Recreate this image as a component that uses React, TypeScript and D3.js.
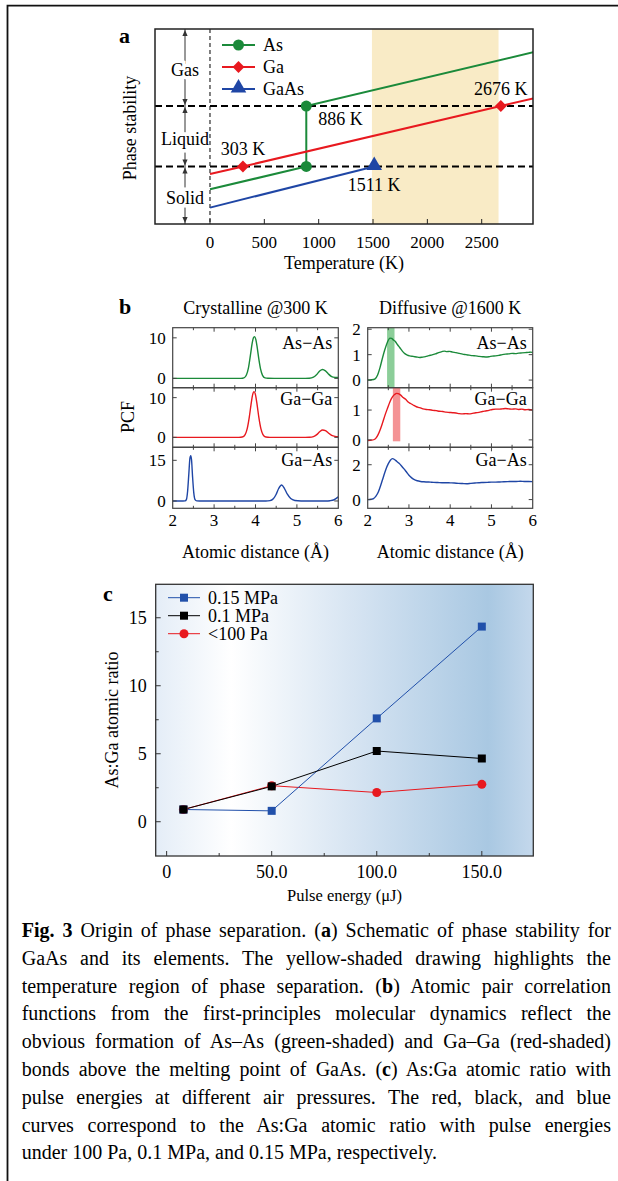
import React, { useEffect, useRef } from "react";
import * as d3 from "d3";

const WIDTH = 618;
const HEIGHT = 1181;
const SERIF = "'Liberation Serif', 'Times New Roman', serif";

const GREEN = "#1b8a3a";
const RED = "#e8191f";
const BLUE = "#1f46a5";

// ---- panel a: phase stability schematic (phase level is arbitrary units 0..100)
const tempTicks = [0, 500, 1000, 1500, 2000, 2500];
const phaseBreaks = [29.5, 60.5]; // solid|liquid, liquid|gas
const phaseNames = ["Gas", "Liquid", "Solid"];
const sepRange = [1490, 2655];
const asPath = [[0, 17.8], [886, 29.5], [886, 60.5], [2975, 88.1]];
const gaPath = [[0, 25.6], [303, 29.5], [2676, 60.5], [2975, 64.4]];
const gaasPath = [[0, 8.4], [1511, 29.5]];
const asPoints = [[886, 29.5], [886, 60.5]];
const gaPoints = [[303, 29.5], [2676, 60.5]];
const gaasPoints = [[1511, 29.5]];
const meltTemps = [303, 886, 1511, 2676];
const meltLevels = [29.5, 60.5, 29.5, 60.5];
const legendA = ["As", "Ga", "GaAs"];

// ---- panel b: pair correlation functions
const pairNames = ["As−As", "Ga−Ga", "Ga−As"];
const distanceTicks = [2, 3, 4, 5, 6];
const crystalTicks = [[0, 10], [0, 10], [0, 15]];
const diffuseTicks = [[0, 1, 2], [0, 1], [0, 2]];
const bondShades = [[2.47, 2.65], [2.61, 2.79]];

const asAs300 = [[2.0, 0], [3.0, 0], [3.55, 0], [3.65, 0.01], [3.72, 0.14], [3.78, 0.85], [3.83, 2.6], [3.88, 5.9], [3.92, 8.7], [3.95, 10.0], [3.975, 10.3], [4.01, 9.5], [4.04, 7.7], [4.08, 4.8], [4.12, 2.4], [4.17, 0.75], [4.23, 0.12], [4.3, 0.02], [4.45, 0], [5.2, 0], [5.3, 0.03], [5.4, 0.3], [5.48, 0.98], [5.55, 1.8], [5.62, 2.2], [5.69, 1.85], [5.76, 1.1], [5.84, 0.45], [5.92, 0.25], [6.0, 0.2]];
const gaGa300 = [[2.0, 0], [3.0, 0], [3.6, 0], [3.68, 0.08], [3.75, 0.7], [3.8, 2.2], [3.85, 5.1], [3.89, 8.1], [3.93, 10.7], [3.965, 11.5], [4.0, 10.7], [4.04, 8.1], [4.08, 5.1], [4.13, 2.2], [4.18, 0.7], [4.25, 0.08], [4.35, 0], [5.2, 0], [5.3, 0.03], [5.4, 0.2], [5.48, 0.7], [5.55, 1.4], [5.62, 1.85], [5.69, 1.7], [5.76, 1.1], [5.84, 0.5], [5.92, 0.25], [6.0, 0.18]];
const gaAs300 = [[2.0, 0], [2.25, 0], [2.3, 0.05], [2.33, 0.5], [2.36, 3.6], [2.39, 10.1], [2.415, 15.6], [2.435, 16.7], [2.455, 15.2], [2.48, 8.9], [2.51, 2.9], [2.54, 0.5], [2.58, 0.05], [2.65, 0], [4.25, 0], [4.35, 0.12], [4.43, 0.8], [4.5, 2.5], [4.56, 4.6], [4.63, 5.9], [4.7, 4.6], [4.77, 2.5], [4.85, 0.9], [4.95, 0.2], [5.1, 0.02], [5.7, 0], [5.8, 0.1], [5.9, 0.45], [6.0, 1.5]];

const asAs1600 = [[2.0, 0.0], [2.1, 0.01], [2.18, 0.05], [2.24, 0.2], [2.3, 0.5], [2.36, 0.88], [2.42, 1.22], [2.48, 1.5], [2.54, 1.65], [2.58, 1.64], [2.62, 1.58], [2.67, 1.52], [2.72, 1.4], [2.78, 1.27], [2.84, 1.14], [2.9, 1.04], [2.96, 0.98], [3.02, 0.95], [3.1, 0.93], [3.18, 0.91], [3.26, 0.89], [3.32, 0.9], [3.4, 0.92], [3.48, 0.96], [3.56, 0.99], [3.64, 1.03], [3.72, 1.08], [3.8, 1.12], [3.86, 1.14], [3.92, 1.12], [3.98, 1.13], [4.06, 1.1], [4.14, 1.08], [4.22, 1.05], [4.3, 1.02], [4.38, 1.0], [4.46, 0.98], [4.54, 0.96], [4.62, 0.95], [4.7, 0.93], [4.78, 0.92], [4.86, 0.91], [4.94, 0.92], [5.02, 0.94], [5.1, 0.95], [5.18, 0.97], [5.26, 1.0], [5.34, 1.02], [5.42, 1.03], [5.5, 1.05], [5.58, 1.04], [5.66, 1.06], [5.74, 1.07], [5.82, 1.08], [5.9, 1.09], [5.96, 1.1], [6.0, 1.08]];
const gaGa1600 = [[2.0, -0.02], [2.1, -0.01], [2.18, 0.03], [2.24, 0.14], [2.3, 0.33], [2.36, 0.57], [2.42, 0.83], [2.48, 1.06], [2.54, 1.28], [2.6, 1.44], [2.66, 1.53], [2.7, 1.56], [2.74, 1.55], [2.8, 1.5], [2.86, 1.42], [2.92, 1.36], [2.98, 1.27], [3.04, 1.22], [3.1, 1.17], [3.18, 1.11], [3.26, 1.08], [3.34, 1.04], [3.42, 1.02], [3.5, 1.01], [3.58, 0.99], [3.66, 0.98], [3.74, 0.96], [3.82, 0.95], [3.9, 0.93], [3.98, 0.92], [4.06, 0.91], [4.14, 0.9], [4.22, 0.88], [4.3, 0.87], [4.38, 0.88], [4.46, 0.87], [4.54, 0.89], [4.62, 0.91], [4.7, 0.92], [4.78, 0.95], [4.86, 0.97], [4.94, 0.99], [5.02, 1.02], [5.1, 1.03], [5.18, 1.03], [5.26, 1.04], [5.34, 1.05], [5.42, 1.04], [5.5, 1.03], [5.58, 1.04], [5.66, 1.02], [5.74, 1.03], [5.82, 1.01], [5.9, 1.02], [6.0, 1.0]];
const gaAs1600 = [[2.0, 0.0], [2.08, 0.02], [2.14, 0.06], [2.2, 0.2], [2.26, 0.45], [2.32, 0.85], [2.38, 1.3], [2.44, 1.73], [2.5, 2.06], [2.55, 2.26], [2.6, 2.35], [2.65, 2.3], [2.7, 2.2], [2.76, 2.08], [2.82, 1.93], [2.88, 1.76], [2.94, 1.58], [3.0, 1.4], [3.06, 1.26], [3.12, 1.16], [3.2, 1.08], [3.28, 1.04], [3.36, 1.02], [3.44, 1.01], [3.52, 1.0], [3.6, 0.99], [3.7, 0.98], [3.8, 0.97], [3.9, 0.97], [4.0, 0.96], [4.1, 0.95], [4.2, 0.93], [4.3, 0.92], [4.4, 0.91], [4.5, 0.93], [4.6, 0.95], [4.7, 0.97], [4.8, 0.98], [4.9, 0.99], [5.0, 1.0], [5.1, 1.0], [5.2, 1.01], [5.3, 1.02], [5.4, 1.03], [5.5, 1.04], [5.6, 1.04], [5.7, 1.05], [5.8, 1.04], [5.9, 1.04], [6.0, 1.03]];

// ---- panel c: As:Ga ratio vs pulse energy
const energies = [8, 50, 100, 150];
const ratioHigh = [0.9, 0.8, 7.6, 14.35]; // 0.15 MPa
const ratioMid = [0.9, 2.6, 5.2, 4.65]; // 0.1 MPa
const ratioLow = [0.9, 2.65, 2.15, 2.75]; // <100 Pa
const pressureNames = ["0.15 MPa", "0.1 MPa", "<100 Pa"];
const energyTicks = [0, 50, 100, 150];
const energyMinor = [25, 75, 125];
const ratioTicks = [0, 5, 10, 15];
const ratioMinor = [2.5, 7.5, 12.5];

const captionLines: [string, boolean][][] = [
  [["Fig. 3", true], [" Origin of phase separation. (", false], ["a", true], [") Schematic of phase stability for", false]],
  [["GaAs and its elements. The yellow-shaded drawing highlights the", false]],
  [["temperature region of phase separation. (", false], ["b", true], [") Atomic pair correlation", false]],
  [["functions from the first-principles molecular dynamics reflect the", false]],
  [["obvious formation of As–As (green-shaded) and Ga–Ga (red-shaded)", false]],
  [["bonds above the melting point of GaAs. (", false], ["c", true], [") As:Ga atomic ratio with", false]],
  [["pulse energies at different air pressures. The red, black, and blue", false]],
  [["curves correspond to the As:Ga atomic ratio with pulse energies", false]],
  [["under 100 Pa, 0.1 MPa, and 0.15 MPa, respectively.", false]],
];

function drawPanelA(svg) {
  const x = d3.scaleLinear().domain([-506, 2972]).range([155, 533]);
  const y = d3.scaleLinear().domain([0, 100]).range([224, 29]);
  const g = svg.append("g").attr("font-family", SERIF);

  g.append("clipPath").attr("id", "clipA").append("rect")
    .attr("x", 155).attr("y", 29).attr("width", 378).attr("height", 195);

  g.append("rect")
    .attr("x", x(sepRange[0])).attr("y", y(100))
    .attr("width", x(sepRange[1]) - x(sepRange[0])).attr("height", y(0) - y(100))
    .attr("fill", "#f9ebc6");

  // phase ranges with double arrows
  const ax = 185;
  const bounds = [y(100), y(phaseBreaks[1]), y(phaseBreaks[0]), y(0)];
  g.append("line").attr("x1", ax).attr("x2", ax).attr("y1", bounds[0]).attr("y2", bounds[3])
    .attr("stroke", "#333").attr("stroke-width", 1);
  phaseNames.forEach((name, i) => {
    const top = bounds[i], bot = bounds[i + 1];
    g.append("path").attr("d", `M${ax},${top + 1} l-2.6,6 h5.2 z`).attr("fill", "#333");
    g.append("path").attr("d", `M${ax},${bot - 1} l-2.6,-6 h5.2 z`).attr("fill", "#333");
    g.append("text").attr("x", ax).attr("y", (top + bot) / 2 + 2).attr("dy", "0.35em")
      .attr("text-anchor", "middle").attr("font-size", 18)
      .attr("stroke", "#fff").attr("stroke-width", 7).attr("paint-order", "stroke")
      .text(name);
  });

  phaseBreaks.forEach((v) => {
    g.append("line").attr("x1", 155).attr("x2", 533).attr("y1", y(v)).attr("y2", y(v))
      .attr("stroke", "#000").attr("stroke-width", 2).attr("stroke-dasharray", "7,4");
  });
  g.append("line").attr("x1", x(0)).attr("x2", x(0)).attr("y1", y(100)).attr("y2", y(0))
    .attr("stroke", "#000").attr("stroke-width", 1).attr("stroke-dasharray", "4,3");

  const line = d3.line().x((d) => x(d[0])).y((d) => y(d[1]));
  const lines = g.append("g").attr("clip-path", "url(#clipA)");
  [[asPath, GREEN], [gaPath, RED], [gaasPath, BLUE]].forEach(([data, color]) => {
    lines.append("path").attr("d", line(data)).attr("fill", "none")
      .attr("stroke", color).attr("stroke-width", 2);
  });

  const circle = d3.symbol(d3.symbolCircle, 95)();
  const diamond = d3.symbol(d3.symbolSquare, 70)();
  const tri = d3.symbol(d3.symbolTriangle, 105)();
  asPoints.forEach((p) => g.append("path").attr("d", circle).attr("fill", GREEN)
    .attr("transform", `translate(${x(p[0])},${y(p[1])})`));
  gaPoints.forEach((p) => g.append("path").attr("d", diamond).attr("fill", RED)
    .attr("transform", `translate(${x(p[0])},${y(p[1])}) rotate(45)`));
  gaasPoints.forEach((p) => g.append("path").attr("d", tri).attr("fill", BLUE)
    .attr("transform", `translate(${x(p[0])},${y(p[1]) - 1})`));

  // melting / boiling labels
  const offs = [[0, -11, "middle"], [12, 19, "start"], [0, 25, "middle"], [0, -11, "middle"]];
  meltTemps.forEach((t, i) => {
    g.append("text").attr("x", x(t) + offs[i][0]).attr("y", y(meltLevels[i]) + offs[i][1])
      .attr("text-anchor", offs[i][2]).attr("font-size", 18).text(`${t} K`);
  });

  // legend
  const legendColors = [GREEN, RED, BLUE];
  const legendShapes = [circle, diamond, tri];
  legendA.forEach((name, i) => {
    const ly = 45 + i * 22;
    g.append("line").attr("x1", 222).attr("x2", 255).attr("y1", ly).attr("y2", ly)
      .attr("stroke", legendColors[i]).attr("stroke-width", 2);
    g.append("path").attr("d", legendShapes[i]).attr("fill", legendColors[i])
      .attr("transform", `translate(238.5,${ly - (i === 2 ? 1 : 0)})${i === 1 ? " rotate(45)" : ""}`);
    g.append("text").attr("x", 263).attr("y", ly).attr("dy", "0.35em")
      .attr("font-size", 18).text(name);
  });

  g.append("rect").attr("x", 155).attr("y", 29).attr("width", 378).attr("height", 195)
    .attr("fill", "none").attr("stroke", "#222").attr("stroke-width", 1.5);

  tempTicks.forEach((t) => {
    g.append("line").attr("x1", x(t)).attr("x2", x(t)).attr("y1", 224).attr("y2", 219)
      .attr("stroke", "#222").attr("stroke-width", 1);
    g.append("text").attr("x", x(t)).attr("y", 248).attr("text-anchor", "middle")
      .attr("font-size", 17).text(t);
  });
  g.append("text").attr("x", 344).attr("y", 269).attr("text-anchor", "middle")
    .attr("font-size", 18).text("Temperature (K)");
  g.append("text").attr("transform", "translate(130,128) rotate(-90)").attr("dy", "0.35em")
    .attr("text-anchor", "middle").attr("font-size", 18).text("Phase stability");
  g.append("text").attr("x", 119).attr("y", 43).attr("font-size", 22)
    .attr("font-weight", "bold").text("a");
}

function drawPanelB(svg) {
  const g = svg.append("g").attr("font-family", SERIF);
  const cols = [
    { x: d3.scaleLinear().domain([2, 6]).range([172.7, 338.3]), curves: [asAs300, gaGa300, gaAs300],
      domains: [[-2.3, 12.5], [-2.5, 12.5], [-2.7, 19.8]], ticks: crystalTicks, title: "Crystalline @300 K" },
    { x: d3.scaleLinear().domain([2, 6]).range([367.7, 532.7]), curves: [asAs1600, gaGa1600, gaAs1600],
      domains: [[-0.3, 2.06], [-0.25, 1.75], [-0.5, 3.0]], ticks: diffuseTicks, title: "Diffusive @1600 K" },
  ];
  const rows = [[327.7, 387.7], [387.7, 447.3], [447.3, 508.3]];
  const colors = [GREEN, RED, BLUE];
  const labelDy = [15, 11, 12];

  cols.forEach((col, ci) => {
    const [xl, xr] = col.x.range();
    rows.forEach(([top, bot], ri) => {
      const y = d3.scaleLinear().domain(col.domains[ri]).range([bot, top]);
      const clipId = `clipB${ci}${ri}`;
      g.append("clipPath").attr("id", clipId).append("rect")
        .attr("x", xl).attr("y", top).attr("width", xr - xl).attr("height", bot - top);

      if (ci === 1 && ri < 2) {
        const [s0, s1] = bondShades[ri];
        g.append("rect").attr("x", col.x(s0)).attr("y", top)
          .attr("width", col.x(s1) - col.x(s0)).attr("height", bot - top - (ri === 1 ? 6 : 0))
          .attr("fill", ri === 0 ? "#3fae55" : "#ec4b4f").attr("opacity", 0.6);
      }

      const line = d3.line().x((d) => col.x(d[0])).y((d) => y(d[1])).curve(d3.curveMonotoneX);
      g.append("path").attr("clip-path", `url(#${clipId})`).attr("d", line(col.curves[ri]))
        .attr("fill", "none").attr("stroke", colors[ri]).attr("stroke-width", 1.4);

      g.append("rect").attr("x", xl).attr("y", top).attr("width", xr - xl).attr("height", bot - top)
        .attr("fill", "none").attr("stroke", "#444").attr("stroke-width", 1.2);

      // x ticks (inside, top and bottom)
      d3.range(2.5, 6, 0.5).forEach((v) => {
        const len = Number.isInteger(v) ? 4 : 2.5;
        g.append("line").attr("x1", col.x(v)).attr("x2", col.x(v)).attr("y1", bot).attr("y2", bot - len)
          .attr("stroke", "#444");
        g.append("line").attr("x1", col.x(v)).attr("x2", col.x(v)).attr("y1", top).attr("y2", top + len)
          .attr("stroke", "#444");
      });
      // y ticks
      col.ticks[ri].forEach((v) => {
        g.append("line").attr("x1", xl).attr("x2", xl + 4).attr("y1", y(v)).attr("y2", y(v)).attr("stroke", "#444");
        g.append("line").attr("x1", xr).attr("x2", xr - 4).attr("y1", y(v)).attr("y2", y(v)).attr("stroke", "#444");
        g.append("text").attr("x", xl - 7).attr("y", y(v)).attr("dy", "0.35em")
          .attr("text-anchor", "end").attr("font-size", 17).text(v);
      });

      g.append("text").attr("x", xr - 6).attr("y", top + labelDy[ri]).attr("dy", "0.35em")
        .attr("text-anchor", "end").attr("font-size", 18).text(pairNames[ri]);
    });

    distanceTicks.forEach((v) => {
      g.append("text").attr("x", col.x(v)).attr("y", 526).attr("text-anchor", "middle")
        .attr("font-size", 17).text(v);
    });
    g.append("text").attr("x", (xl + xr) / 2).attr("y", 558).attr("text-anchor", "middle")
      .attr("font-size", 18).text("Atomic distance (Å)");
    g.append("text").attr("x", (xl + xr) / 2).attr("y", 314).attr("text-anchor", "middle")
      .attr("font-size", 18).text(col.title);
  });

  g.append("text").attr("transform", "translate(128,417) rotate(-90)").attr("dy", "0.35em")
    .attr("text-anchor", "middle").attr("font-size", 18).text("PCF");
  g.append("text").attr("x", 119).attr("y", 314).attr("font-size", 22)
    .attr("font-weight", "bold").text("b");
}

function drawPanelC(svg) {
  const x = d3.scaleLinear().domain([-5.2, 174.5]).range([155.7, 533.3]);
  const y = d3.scaleLinear().domain([-2.52, 17.46]).range([856, 584.3]);
  const [xl, xr] = x.range();
  const [yb, yt] = y.range();
  const g = svg.append("g").attr("font-family", SERIF);

  const grad = g.append("defs").append("linearGradient").attr("id", "bgC")
    .attr("x1", "0%").attr("x2", "100%").attr("y1", "0%").attr("y2", "0%");
  [["0%", "#e4edf7"], ["20%", "#ffffff"], ["55%", "#d3e2f1"], ["88%", "#a9c8e2"], ["100%", "#c4d8ec"]]
    .forEach(([o, c]) => grad.append("stop").attr("offset", o).attr("stop-color", c));
  g.append("rect").attr("x", xl).attr("y", yt).attr("width", xr - xl).attr("height", yb - yt)
    .attr("fill", "url(#bgC)");

  const line = d3.line().x((d, i) => x(energies[i])).y((d) => y(d));
  const sq = d3.symbol(d3.symbolSquare, 64)();
  const circ = d3.symbol(d3.symbolCircle, 64)();
  const series = [
    { data: ratioLow, color: "#e8191f", shape: circ, name: pressureNames[2] },
    { data: ratioHigh, color: "#2150aa", shape: sq, name: pressureNames[0] },
    { data: ratioMid, color: "#000000", shape: sq, name: pressureNames[1] },
  ];
  series.forEach((s) => {
    g.append("path").attr("d", line(s.data)).attr("fill", "none")
      .attr("stroke", s.color).attr("stroke-width", 1);
  });
  series.forEach((s) => {
    s.data.forEach((v, i) => g.append("path").attr("d", s.shape).attr("fill", s.color)
      .attr("transform", `translate(${x(energies[i])},${y(v)})`));
  });

  // legend (drawn in the order of the reference)
  [series[1], series[2], series[0]].forEach((s, i) => {
    const ly = 597.7 + i * 18;
    g.append("line").attr("x1", 168).attr("x2", 200).attr("y1", ly).attr("y2", ly)
      .attr("stroke", s.color).attr("stroke-width", 1);
    g.append("path").attr("d", s.shape).attr("fill", s.color).attr("transform", `translate(184,${ly})`);
    g.append("text").attr("x", 208).attr("y", ly).attr("dy", "0.35em").attr("font-size", 18).text(s.name);
  });

  g.append("rect").attr("x", xl).attr("y", yt).attr("width", xr - xl).attr("height", yb - yt)
    .attr("fill", "none").attr("stroke", "#333").attr("stroke-width", 1.3);

  energyTicks.forEach((v) => {
    g.append("line").attr("x1", x(v)).attr("x2", x(v)).attr("y1", yb).attr("y2", yb - 5).attr("stroke", "#333");
    g.append("text").attr("x", x(v)).attr("y", 878).attr("text-anchor", "middle").attr("font-size", 18)
      .text(v === 0 ? "0" : d3.format(".1f")(v));
  });
  energyMinor.forEach((v) => g.append("line").attr("x1", x(v)).attr("x2", x(v))
    .attr("y1", yb).attr("y2", yb - 3).attr("stroke", "#333"));
  ratioTicks.forEach((v) => {
    g.append("line").attr("x1", xl).attr("x2", xl + 5).attr("y1", y(v)).attr("y2", y(v)).attr("stroke", "#333");
    g.append("text").attr("x", xl - 9).attr("y", y(v)).attr("dy", "0.35em").attr("text-anchor", "end")
      .attr("font-size", 18).text(v);
  });
  ratioMinor.forEach((v) => g.append("line").attr("x1", xl).attr("x2", xl + 3)
    .attr("y1", y(v)).attr("y2", y(v)).attr("stroke", "#333"));

  g.append("text").attr("x", (xl + xr) / 2).attr("y", 901).attr("text-anchor", "middle")
    .attr("font-size", 16.5).text("Pulse energy (μJ)");
  g.append("text").attr("transform", "translate(112,720) rotate(-90)").attr("dy", "0.35em")
    .attr("text-anchor", "middle").attr("font-size", 18).text("As:Ga atomic ratio");
  g.append("text").attr("x", 103).attr("y", 601).attr("font-size", 22)
    .attr("font-weight", "bold").text("c");
}

function drawCaption(svg) {
  const left = 21.7;
  const right = 611;
  const g = svg.append("g").attr("font-family", SERIF).attr("font-size", 20);
  captionLines.forEach((parts, i) => {
    const t = g.append("text").attr("x", left).attr("y", 937 + i * 27.8);
    parts.forEach(([s, bold]) => t.append("tspan").attr("font-weight", bold ? "bold" : null).text(s));
    if (i < captionLines.length - 1) {
      const node = t.node();
      const natural = node.getComputedTextLength();
      const full = parts.map((p) => p[0]).join("");
      const spaces = (full.match(/ /g) || []).length;
      if (spaces > 0) t.attr("word-spacing", (right - left - natural) / spaces);
    }
  });
}

export default function App() {
  const ref = useRef<SVGSVGElement>(null);

  useEffect(() => {
    const svg = d3.select(ref.current);
    svg.selectAll("*").remove();
    svg.append("rect").attr("width", WIDTH).attr("height", HEIGHT).attr("fill", "#fff");
    drawPanelA(svg);
    drawPanelB(svg);
    drawPanelC(svg);
    drawCaption(svg);
    // outer frame (top and left edges only)
    svg.append("path").attr("d", `M7.5,${HEIGHT} V5.7 H${WIDTH}`)
      .attr("fill", "none").attr("stroke", "#111").attr("stroke-width", 1.8);
  }, []);

  return (
    <svg ref={ref} width={WIDTH} height={HEIGHT}
      style={{ position: "absolute", left: 0, top: 0, display: "block" }} />
  );
}
